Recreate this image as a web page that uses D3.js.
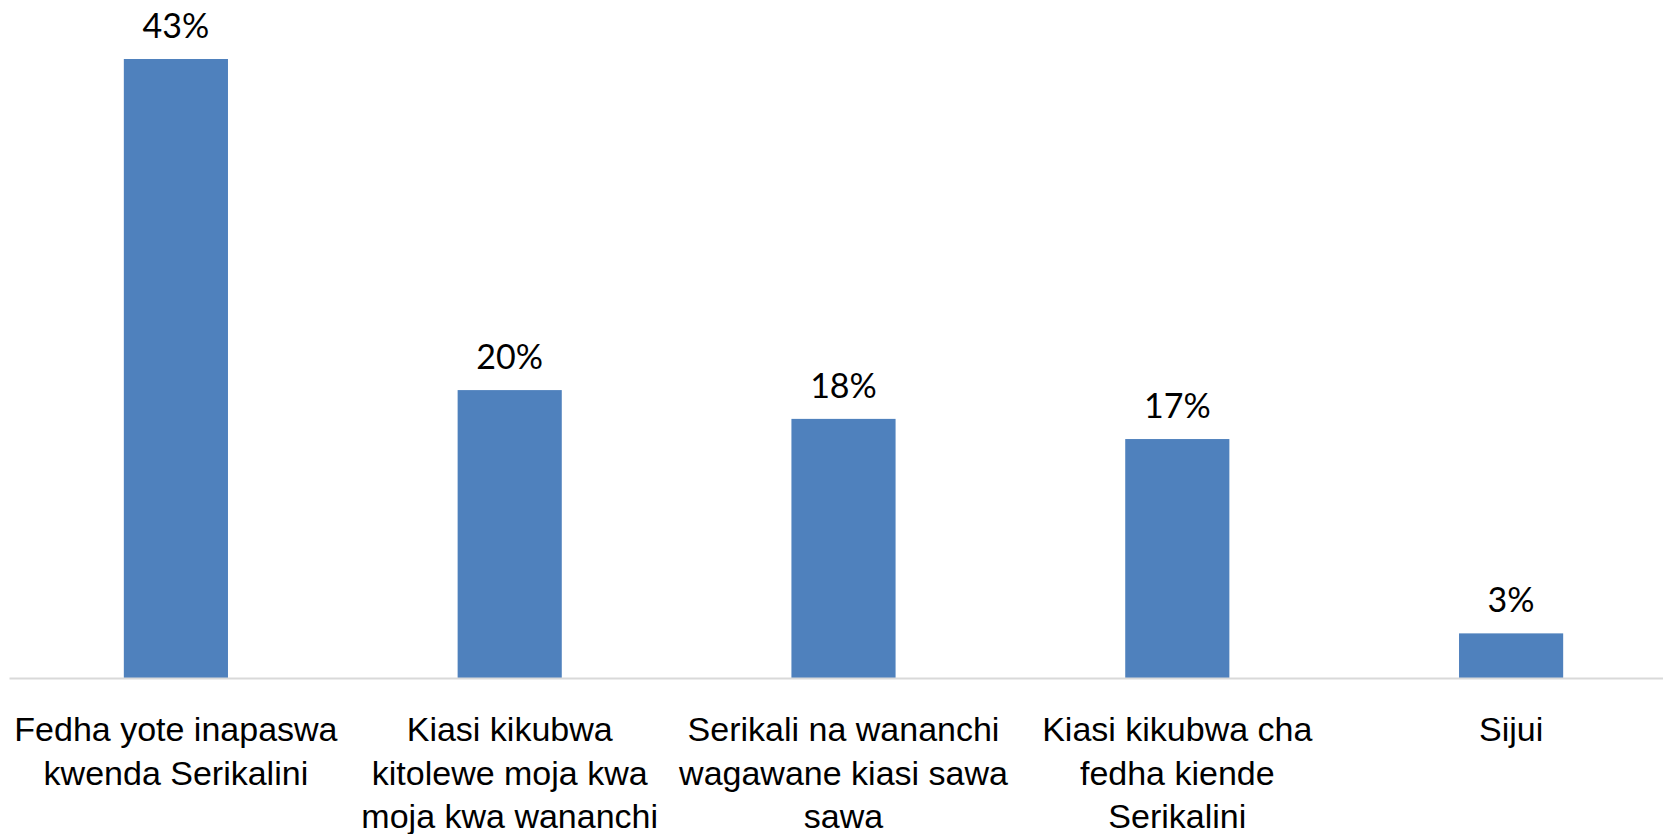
<!DOCTYPE html>
<html>
<head>
<meta charset="utf-8">
<script src="https://cdn.jsdelivr.net/npm/d3@7"></script>
<style>
  html, body { margin: 0; padding: 0; background: #fff; overflow: hidden; }
  svg { display: block; font-family: Lato, "Open Sans", sans-serif; }
</style>
</head>
<body>
<svg width="1663" height="834"></svg>
<script>
// categories, with the line breaks used in the original chart
const categories = [
  ['Fedha yote inapaswa', 'kwenda Serikalini'],
  ['Kiasi kikubwa', 'kitolewe moja kwa', 'moja kwa wananchi'],
  ['Serikali na wananchi', 'wagawane kiasi sawa', 'sawa'],
  ['Kiasi kikubwa cha', 'fedha kiende', 'Serikalini'],
  ['Sijui']
]
const values = [0.43, 0.20, 0.18, 0.166, 0.031]

const svg = d3.select('svg')
const baseY = 678
const topY = 59

const x = d3.scaleBand()
  .domain(d3.range(categories.length))
  .range([9, 1678])
  .paddingInner(0.688)
  .paddingOuter(0.344)

const y = d3.scaleLinear()
  .domain([0, d3.max(values)])
  .range([baseY, topY])

const pct = d3.format('.0%')

// bars
svg.append('g')
  .selectAll('rect')
  .data(values)
  .join('rect')
  .attr('x', (d, i) => x(i))
  .attr('y', d => y(d))
  .attr('width', x.bandwidth())
  .attr('height', d => baseY - y(d))
  .attr('fill', '#4f81bd')

// value labels
svg.append('g')
  .selectAll('text')
  .data(values)
  .join('text')
  .attr('x', (d, i) => x(i) + x.bandwidth() / 2)
  .attr('y', d => y(d) - 21)
  .attr('text-anchor', 'middle')
  .attr('font-size', 34)
  .attr('fill', '#000')
  .text(d => pct(d))

// category axis
const axis = svg.append('g')
  .attr('transform', `translate(0,${baseY})`)
  .call(d3.axisBottom(x).tickSize(0).tickFormat(''))

axis.select('.domain')
  .attr('stroke', '#d9d9d9')
  .attr('stroke-width', 2)

axis.selectAll('.tick text').remove()

axis.selectAll('.tick')
  .append('text')
  .attr('text-anchor', 'middle')
  .attr('font-size', 34)
  .attr('fill', '#000')
  .selectAll('tspan')
  .data(i => categories[i])
  .join('tspan')
  .attr('x', 0)
  .attr('y', (d, j) => 63 + j * 43.5)
  .text(d => d)
</script>
</body>
</html>
